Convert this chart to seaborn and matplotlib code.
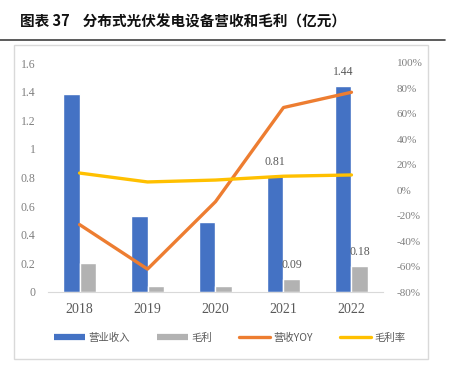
import numpy as np
import pandas as pd
import matplotlib
matplotlib.use("Agg")
import matplotlib.pyplot as plt
from matplotlib.patches import Rectangle
from matplotlib.lines import Line2D
import seaborn as sns

years = ["2018", "2019", "2020", "2021", "2022"]
revenue = [1.38, 0.53, 0.49, 0.81, 1.44]
gross_profit = [0.20, 0.04, 0.04, 0.09, 0.18]
revenue_yoy = [-27, -62, -9, 65, 77]
gross_margin = [13.5, 6.5, 8, 11, 12]
left_ticks = [0, 0.2, 0.4, 0.6, 0.8, 1, 1.2, 1.4, 1.6]
right_ticks = [-80, -60, -40, -20, 0, 20, 40, 60, 80, 100]
shown_labels = {"2021", "2022"}

blue, gray, orange, yellow = "#4472C4", "#B2B2B2", "#ED7D31", "#FFC000"
tick_color = "#7F7F7F"

sns.set_style("white")
plt.rcParams["font.family"] = ["Noto Sans CJK SC", "DejaVu Sans"]
serif = ["Liberation Serif", "DejaVu Serif"]

df = pd.DataFrame({
    "year": years * 2,
    "value": revenue + gross_profit,
    "series": ["营业收入"] * 5 + ["毛利"] * 5,
})

fig = plt.figure(figsize=(4.5, 3.85), dpi=100)
ax = fig.add_axes([48 / 450, 1 - 292 / 385, 335 / 450, 229 / 385])

sns.barplot(data=df, x="year", y="value", hue="series", palette=[blue, gray],
            width=0.48, gap=0, ax=ax, legend=False, saturation=1)
ax.set_ylim(0, 1.6)
ax.set_yticks(left_ticks)
ax.set_yticklabels([f"{t:g}" for t in left_ticks], family=serif, fontsize=8.5, color=tick_color)
ax.set_xlabel("")
ax.set_ylabel("")
ax.tick_params(axis="both", length=0)
ax.tick_params(axis="y", pad=9)
ax.tick_params(axis="x", pad=8)
for lab in ax.get_xticklabels():
    lab.set_family(serif)
    lab.set_fontsize(10)
    lab.set_color("#595959")
for s in ["top", "left", "right"]:
    ax.spines[s].set_visible(False)
ax.spines["bottom"].set_color("#D9D9D9")

# value labels for the last two years
for cont in ax.containers:
    labels = []
    for yr, bar in zip(years, cont):
        h = bar.get_height()
        labels.append(f"{h:.2f}" if yr in shown_labels else "")
    ax.bar_label(cont, labels=labels, padding=6, fontsize=8.5, color="#595959", family=serif)

ax2 = ax.twinx()
sns.lineplot(x=years, y=revenue_yoy, color=orange, lw=2.4, ax=ax2, sort=False)
sns.lineplot(x=years, y=gross_margin, color=yellow, lw=2.4, ax=ax2, sort=False)
ax2.set_ylim(-80, 100)
ax2.set_yticks(right_ticks)
ax2.set_yticklabels([f"{t}%" for t in right_ticks], family=serif, fontsize=8, color=tick_color)
ax2.tick_params(axis="y", length=0, pad=10)
for s in ax2.spines.values():
    s.set_visible(False)
ax2.set_ylabel("")

# legend
handles = [
    Line2D([0], [0], color=blue, lw=4.5, solid_capstyle="butt"),
    Line2D([0], [0], color=gray, lw=4.5, solid_capstyle="butt"),
    Line2D([0], [0], color=orange, lw=2.4),
    Line2D([0], [0], color=yellow, lw=2.4),
]
fig.legend(handles, ["营业收入", "毛利", "营收YOY", "毛利率"], loc="center",
           bbox_to_anchor=(0.51, 1 - 338 / 385), ncol=4, frameon=False,
           fontsize=7.5, labelcolor="#595959", handlelength=3.0,
           handletextpad=0.3, columnspacing=2.6)

# frame and title
fig.patches.append(Rectangle((14 / 450, 1 - 359 / 385), 414 / 450, 314 / 385,
                             transform=fig.transFigure, fill=False,
                             edgecolor="#D9D9D9", lw=1))
fig.add_artist(Line2D([0, 445 / 450], [1 - 40 / 385, 1 - 40 / 385],
                      transform=fig.transFigure, color="#404040", lw=1.2))
fig.text(20 / 450, 1 - 22 / 385, "图表 37    分布式光伏发电设备营收和毛利（亿元）",
         fontsize=10.5, fontweight="bold", va="center", ha="left", color="#111111")

fig.savefig("out.png", dpi=100)
